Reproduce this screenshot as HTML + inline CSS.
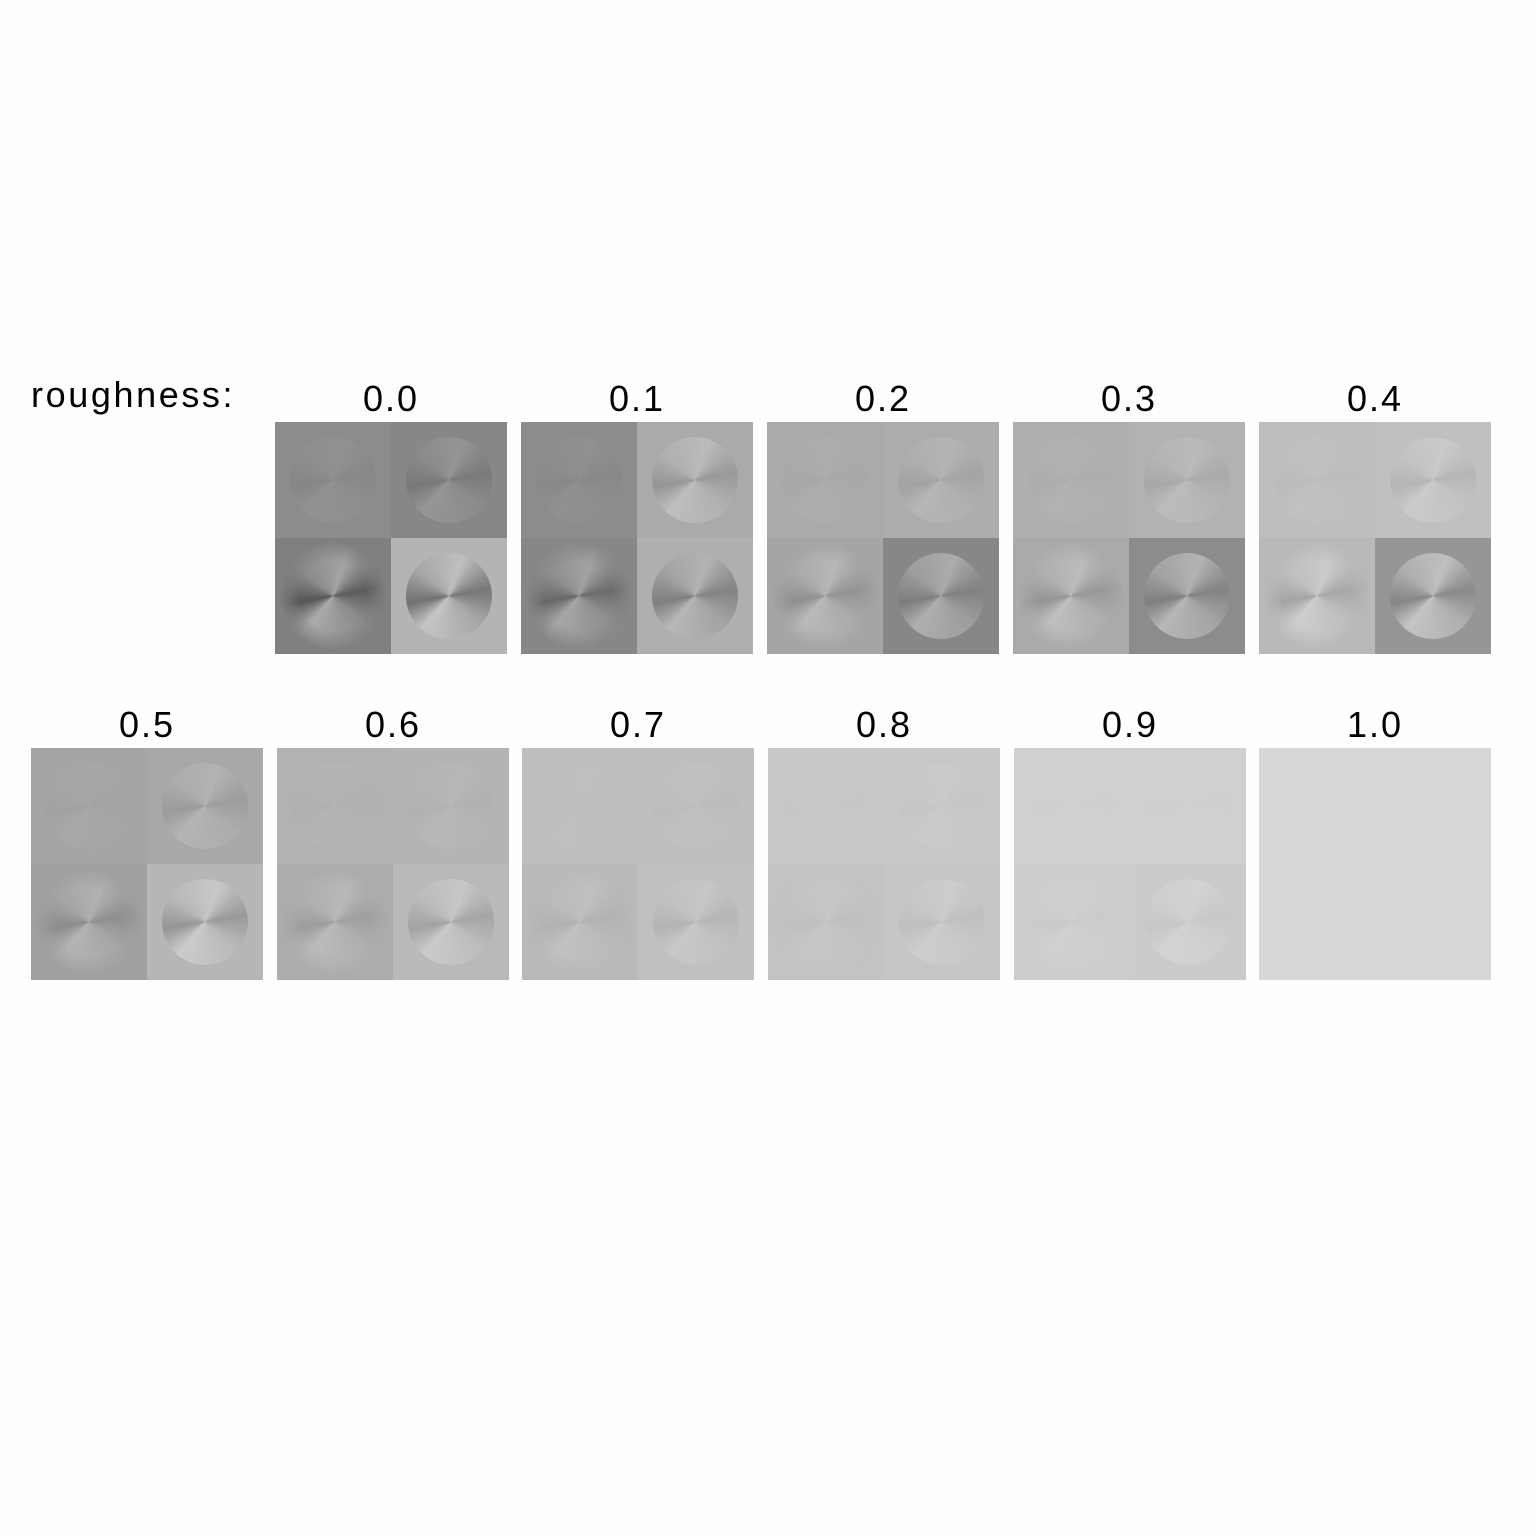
<!DOCTYPE html>
<html><head><meta charset="utf-8">
<style>
body{margin:0;background:#fefefe;width:1536px;height:1536px;position:relative;overflow:hidden;font-family:"Liberation Sans",sans-serif;}
.lbl{position:absolute;font-size:36px;color:#000;text-align:center;width:232px;letter-spacing:2px;}
.panel{position:absolute;width:232px;height:232px;}
.q{position:absolute;width:116px;height:116px;overflow:hidden;}
.c{position:absolute;left:15px;top:15px;width:86px;height:86px;border-radius:50%;}
</style></head>
<body>
<div id="title" style="position:absolute;left:31px;top:374px;font-size:36px;letter-spacing:2.6px;">roughness:</div>
<div id="root"></div>
<script>
const roughness=["0.0","0.1","0.2","0.3","0.4","0.5","0.6","0.7","0.8","0.9","1.0"];
// quadrant background greys [TL,TR,BL,BR]
const bgTL=[140,140,170,175,190,165,178,190,200,208,215];
const bgTR=[135,170,172,178,192,168,180,190,200,208,215];
const bgBL=[128,135,165,170,185,160,172,185,195,205,215];
const bgBR=[180,175,135,140,150,182,185,192,198,203,215];
// circle contrast [TL,TR,BL,BR]
const cTL=[8,6,4,4,4,4,3,2,1,1,0];
const cTR=[22,28,14,14,16,18,5,3,3,2,0];
const cBL=[60,45,30,30,30,28,22,12,6,4,0];
const cBR=[60,40,35,40,45,38,28,14,10,8,0];
// circle base offset relative to quadrant bg
const offBR=[-25,-20,15,15,15,-5,-3,-2,0,2,0];
const pos=[[275,422],[521,422],[767,422],[1013,422],[1259,422],[31,748],[277,748],[522,748],[768,748],[1014,748],[1259,748]];
const root=document.getElementById('root');
function g(v){v=Math.max(0,Math.min(255,Math.round(v)));return `rgb(${v},${v},${v})`;}
for(let i=0;i<roughness.length;i++){
  const [x,y]=pos[i];
  const l=document.createElement('div');l.className='lbl';
  
  
  l.style.left=x+'px';l.style.top=(y-44)+'px';l.textContent=roughness[i];root.appendChild(l);
  const p=document.createElement('div');p.className='panel';
  
  
  p.style.left=x+'px';p.style.top=y+'px';root.appendChild(p);
  const bgs=[bgTL[i],bgTR[i],bgBL[i],bgBR[i]],cs=[cTL[i],cTR[i],cBL[i],cBR[i]];
  for(let k=0;k<4;k++){
    const q=document.createElement('div');q.className='q';
    
    
    q.style.left=(k%2)*116+'px';q.style.top=Math.floor(k/2)*116+'px';q.style.background=g(bgs[k]);
    p.appendChild(q);
    if(cs[k]>0){
      const c=document.createElement('div');c.className='c';
      
      
      const b=k==3?bgs[k]+offBR[i]:bgs[k],a=cs[k];
      c.style.background=`conic-gradient(from 20deg,${g(b+a*0.6)},${g(b-a*0.6)} 60deg,${g(b+a*0.2)} 110deg,${g(b+a*0.7)} 200deg,${g(b-a*0.7)} 240deg,${g(b+a*0.2)} 290deg,${g(b+a*0.6)})`;
      if(k==2){c.style.left='5px';c.style.top='5px';c.style.width='106px';c.style.height='106px';
        c.style.webkitMaskImage='radial-gradient(circle,#000 45%,transparent 72%)';c.style.maskImage='radial-gradient(circle,#000 45%,transparent 72%)';}
      q.appendChild(c);
    }
  }
}
</script>
</body></html>
